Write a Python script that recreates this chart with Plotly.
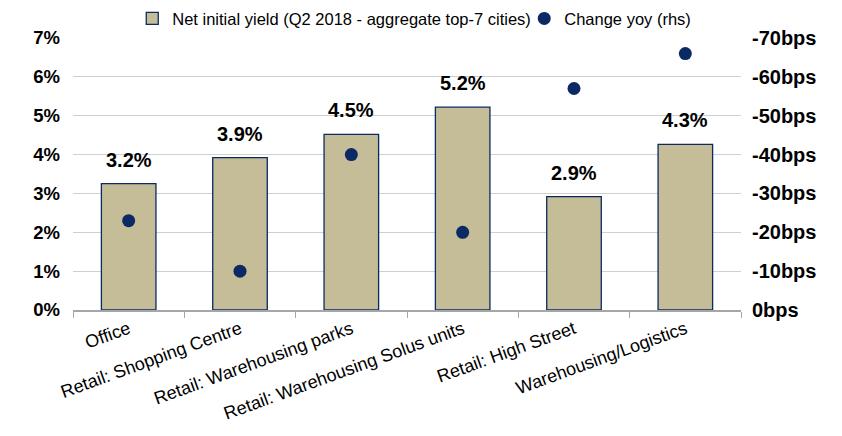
import plotly.graph_objects as go

categories = ["Office", "Retail: Shopping Centre", "Retail: Warehousing parks",
              "Retail: Warehousing Solus units", "Retail: High Street", "Warehousing/Logistics"]
yield_values = [3.25, 3.92, 4.52, 5.22, 2.92, 4.26]
yield_labels = ["3.2%", "3.9%", "4.5%", "5.2%", "2.9%", "4.3%"]
change_bps = [-23, -10, -40, -20, -57, -66]

left_ticks = [0, 1, 2, 3, 4, 5, 6, 7]
left_ticktext = [f"{v}%" for v in left_ticks]
right_ticks = [0, -10, -20, -30, -40, -50, -60, -70]
right_ticktext = [f"{v}bps" for v in right_ticks]

BAR = "#C4BD97"
NAVY = "#0B2A63"
GRID = "#D0D0D0"
FONT = "Liberation Sans, Arial, sans-serif"

fig = go.Figure()
fig.add_trace(go.Bar(
    x=categories, y=yield_values, name="Net initial yield (Q2 2018 - aggregate top-7 cities)",
    marker=dict(color=BAR, line=dict(color=NAVY, width=1.3)),
    width=0.49, legend="legend",
))
fig.add_trace(go.Scatter(
    x=categories, y=change_bps, name="Change yoy (rhs)", mode="markers", yaxis="y2",
    marker=dict(color=NAVY, size=13), legend="legend2",
))

for cat, val, lab in zip(categories, yield_values, yield_labels):
    fig.add_annotation(x=cat, y=val, text=lab, showarrow=False, yanchor="bottom",
                       yshift=11, font=dict(family=FONT, size=20, color="black", weight="bold"))

legend_common = dict(orientation="h", xanchor="left", yref="container", y=0.975, yanchor="middle",
                     xref="container", font=dict(family=FONT, size=16.5, color="black"),
                     itemwidth=30, bgcolor="rgba(0,0,0,0)")

fig.update_layout(
    width=834, height=428,
    margin=dict(l=65, r=101, t=30, b=126, autoexpand=False),
    plot_bgcolor="white", paper_bgcolor="white",
    font=dict(family=FONT, color="black"),
    showlegend=True,
    legend=dict(x=0.149, **legend_common),
    legend2=dict(x=0.619, **legend_common),
    xaxis=dict(
        showline=True, linecolor="#A6A6A6", linewidth=1.5,
        ticks="outside", tickson="boundaries", ticklen=6, tickcolor="#A6A6A6",
        tickangle=-20, tickfont=dict(family=FONT, size=18, color="black"),
        showgrid=False, automargin=False,
    ),
    yaxis=dict(
        range=[0, 7], tickvals=left_ticks, ticktext=left_ticktext,
        showgrid=True, gridcolor=GRID, gridwidth=1.3, zeroline=False,
        tickfont=dict(family=FONT, size=18.5, color="black", weight="bold"),
        ticklabelstandoff=12, automargin=False,
    ),
    yaxis2=dict(
        range=[0, -70], tickvals=right_ticks, ticktext=right_ticktext,
        overlaying="y", side="right", showgrid=False, zeroline=False,
        tickfont=dict(family=FONT, size=20, color="black", weight="bold"),
        ticklabelstandoff=10, automargin=False,
    ),
)

fig.write_html("out.html")
